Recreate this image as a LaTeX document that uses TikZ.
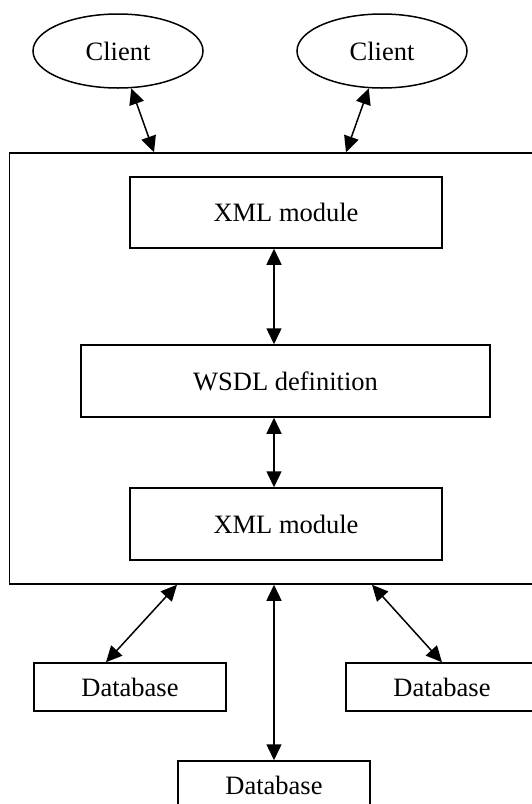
\documentclass[tikz,border=0pt]{standalone}
\usepackage{fontspec}
\setmainfont{Liberation Serif}
\usetikzlibrary{shapes.geometric,arrows.meta}

\begin{document}
\begin{tikzpicture}[x=1pt,y=-1pt,
	every node/.style={font=\fontsize{26.5}{30}\selectfont},
	box/.style={draw, rectangle, line width=1.5pt, inner sep=0pt},
	client/.style={draw, ellipse, line width=1.5pt, minimum width=170pt, minimum height=74pt, inner sep=0pt},
	link/.style={line width=1.5pt, {Triangle[length=16pt,width=15pt]}-{Triangle[length=16pt,width=15pt]}}]
			\useasboundingbox (0,0) rectangle (532,804);
			\clip (0,0) rectangle (532,804);
			
			\node	(srv) at (286,368.5) [box, minimum width=553pt, minimum height=431pt] {};
			\node	(c1) at (118,51) [client] {Client};
			\node	(c2) at (382,51) [client] {Client};
			\node	(x1) at (286,212.5) [box, minimum width=312pt, minimum height=71pt] {XML module};
			\node	(wsdl) at (285.5,381) [box, minimum width=409pt, minimum height=72pt] {WSDL definition};
			\node	(x2) at (286,524) [box, minimum width=312pt, minimum height=72pt] {XML module};
			\node	(db1) at (130,687) [box, minimum width=192pt, minimum height=48pt] {Database};
			\node	(db2) at (274,785) [box, minimum width=192pt, minimum height=48pt] {Database};
			\node	(db3) at (442,687) [box, minimum width=192pt, minimum height=48pt] {Database};
			
			\draw[link] (c1) -- ([xshift=-132pt]srv.north);
			\draw[link] (c2) -- ([xshift=60pt]srv.north);
			\draw[link] ([xshift=-12pt]x1.south) -- ([xshift=-11.5pt]wsdl.north);
			\draw[link] ([xshift=-11.5pt]wsdl.south) -- ([xshift=-12pt]x2.north);
			\draw[link] ([xshift=-109pt]srv.south) -- ([xshift=-24pt]db1.north);
			\draw[link] ([xshift=-12pt]srv.south) -- (db2.north);
			\draw[link] ([xshift=86pt]srv.south) -- (db3.north);
		\end{tikzpicture}
\end{document}
